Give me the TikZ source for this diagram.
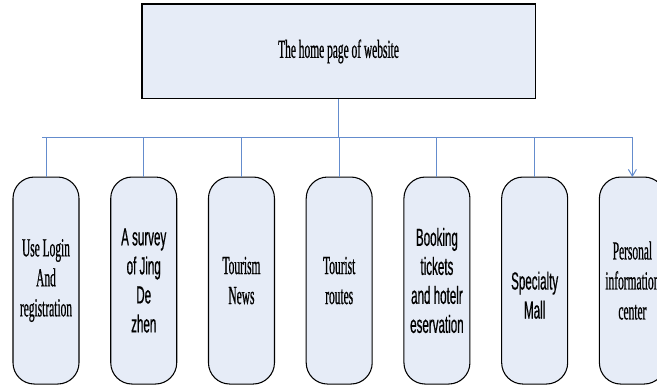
\documentclass[tikz,border=0pt]{standalone}
\usepackage{fontspec}
\setmainfont{Liberation Serif}[FakeStretch=0.44, FakeBold=0.6]
\newfontfamily\narrowsans{Liberation Sans}[FakeStretch=0.47, FakeBold=0.6]
\usepackage{tikz}
\usetikzlibrary{positioning,arrows.meta,calc}
\definecolor{boxfill}{RGB}{230,236,247}
\definecolor{linkblue}{RGB}{100,140,205}
\newcommand{\serifsize}{\fontsize{19.5pt}{22.5pt}\selectfont}
\newcommand{\sanssize}{\narrowsans\fontsize{18.5pt}{21.75pt}\selectfont}
\tikzset{
  homebox/.style={draw, line width=1pt, fill=boxfill, minimum width=295pt, minimum height=71pt, font=\serifsize},
  part/.style={draw, line width=0.8pt, rounded corners=16pt, fill=boxfill, minimum width=49.5pt,
    minimum height=155.25pt, align=center, inner sep=1pt, outer sep=0pt, font=\serifsize},
  sanspart/.style={part, font=\sanssize},
  sanstext/.style={align=center, inner sep=1pt, font=\sanssize},
  link/.style={draw=linkblue, line width=0.75pt},
  arrowlink/.style={link, -{Straight Barb[length=5pt, width=6pt]}},
}

\begin{document}
\begin{tikzpicture}[node distance=23.8pt]
  \useasboundingbox (0,0) rectangle (492.75pt,-290.25pt);
  % home page
  \node[homebox] (home) at (253.9pt,-38.6pt) {The home page of website};
  % sections
  \node[part] (login) at (34.5pt,-210.4pt) {Use Login\\And\\registration};
  \node[sanspart, right=of login] (survey) {A survey\\of Jing\\De\\zhen};
  \node[part, right=of survey] (news) {Tourism\\News};
  \node[part, right=of news] (routes) {Tourist\\routes};
  \node[sanspart, right=of routes] (booking) {Booking\\tickets\\and hotelr\\eservation};
  \node[part, right=of booking] (mall) {};
  \node[sanstext, yshift=-11pt] (malltext) at (mall) {Specialty\\Mall};
  \node[part, right=of mall] (personal) {Personal\\information\\center};
  % bus
  \coordinate (bus) at ($(home.south)+(0,-28.5pt)$);
  \draw[link] (home.south) -- (bus);
  \draw[link] ($(login.north |- bus)+(-3pt,0)$) -- (personal.north |- bus);
  % drops
  \draw[link] (login.north |- bus) -- (login.north);
  \draw[link] (survey.north |- bus) -- (survey.north);
  \draw[link] (news.north |- bus) -- (news.north);
  \draw[link] (routes.north |- bus) -- (routes.north);
  \draw[link] (booking.north |- bus) -- (booking.north);
  \draw[link] (mall.north |- bus) -- (mall.north);
  \draw[arrowlink] (personal.north |- bus) -- (personal.north);
\end{tikzpicture}
\end{document}
